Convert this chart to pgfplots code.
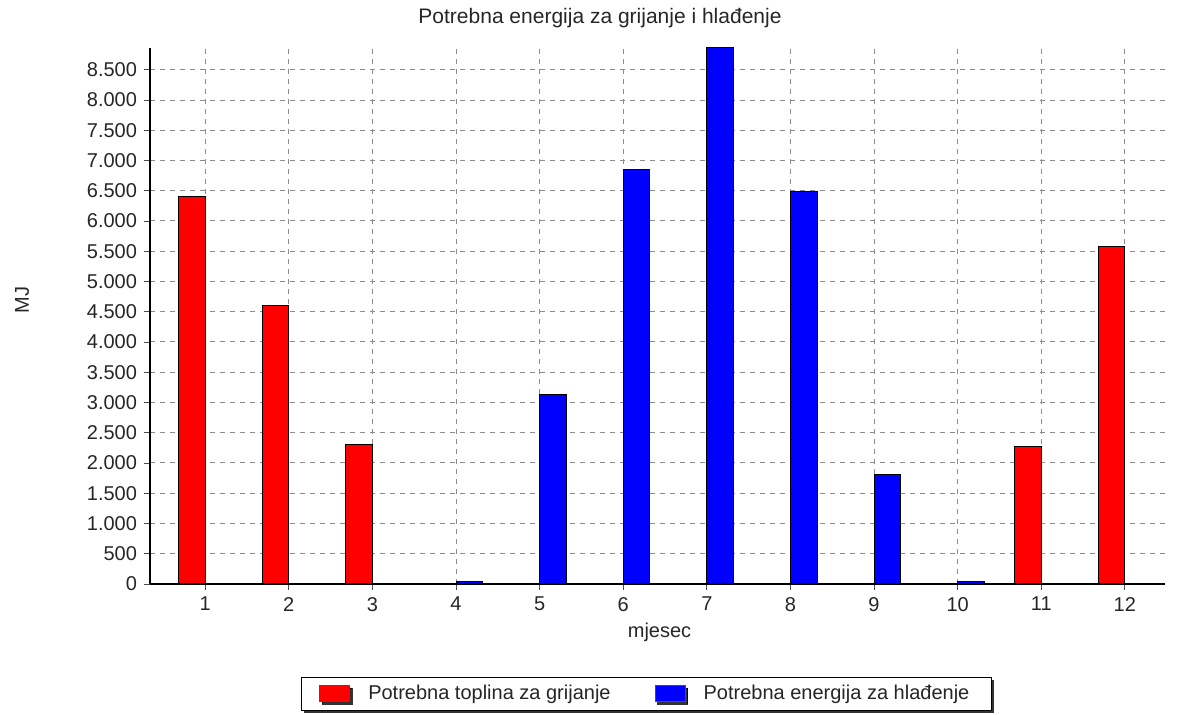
\documentclass[border=0pt]{standalone}
\usepackage{fontspec}
\setmainfont{Liberation Sans}
\usepackage{pgfplots}
\pgfplotsset{compat=1.18}
\usetikzlibrary{shadows}

\pgfplotstableread{
x y
1 6410
2 4610
3 2310
11 2265
12 5575
}\heating
\pgfplotstableread{
x y
4 45
5 3135
6 6850
7 8860
8 6490
9 1805
10 45
}\cooling

\begin{document}
\begin{tikzpicture}[font=\fontsize{10}{12}\selectfont]
\path[use as bounding box] (-75pt,-65.5pt) rectangle (515pt,292pt);
\begin{axis}[
  at={(0pt,0pt)}, anchor=south west,
  scale only axis, width=507.5pt, height=268pt,
  xmin=0.34, xmax=12.48, ymin=0, ymax=8860,
  axis x line*=bottom, axis y line*=left,
  axis line style={black, line width=1.3pt, -},
  xtick={1,...,12}, ytick={0,500,...,8500},
  tick align=outside, major tick length=3pt,
  tick style={black!70, thin},
  grid=major, grid style={dash pattern=on 2.5pt off 2.5pt, black!45, line width=0.5pt},
  /pgf/number format/assume math mode=true,
  /pgf/number format/1000 sep={.},
  ticklabel style={text=black!85},
  ybar, bar width=0.32,
  xlabel={mjesec},
  xlabel style={at={(axis description cs:0.502,-0.09)}, anchor=center, text=black!85},
  ylabel={MJ},
  ylabel style={at={(axis description cs:-0.126,0.53)}, anchor=center, text=black!85},
  legend columns=2,
  legend style={at={(axis description cs:0.489,-0.205)}, anchor=center,
    draw=black, fill=white, line width=0.6pt,
    drop shadow={shadow xshift=1.2pt, shadow yshift=-1.2pt, fill=black, opacity=0.8},
    font=\fontsize{10}{12}\selectfont, text=black!85,
    inner xsep=9pt, inner ysep=2pt,
    /tikz/every odd column/.append style={column sep=7pt},
    /tikz/every even column/.append style={column sep=20pt}},
]
\addplot[fill=red, draw=black, line width=0.5pt, bar shift=-0.16,
  legend image code/.code={\draw[fill=red, draw=black!70] (0pt,-4pt) rectangle (15pt,4pt);}]
  table[x=x, y=y] {\heating};
\addlegendentry{Potrebna toplina za grijanje}
\addplot[fill=blue, draw=black, line width=0.5pt, bar shift=0.16,
  legend image code/.code={\draw[fill=blue, draw=black!70] (0pt,-4pt) rectangle (15pt,4pt);}]
  table[x=x, y=y] {\cooling};
\addlegendentry{Potrebna energija za hlađenje}
\end{axis}
\node[anchor=center, text=black!85, font=\fontsize{10.5}{12}\selectfont] at (225pt,283pt) {Potrebna energija za grijanje i hlađenje};
\end{tikzpicture}
\end{document}
